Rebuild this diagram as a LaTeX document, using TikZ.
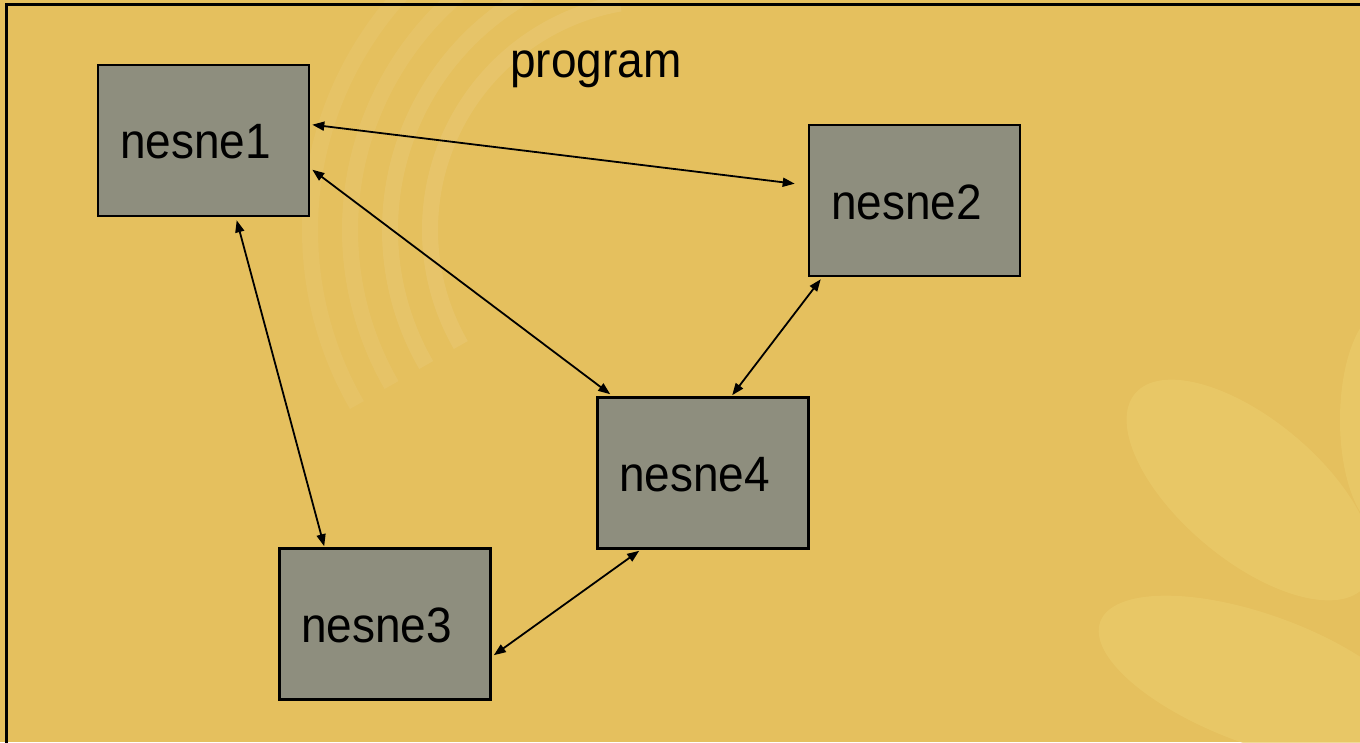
\documentclass[tikz,border=0pt]{standalone}
\usepackage{fontspec}
\setmainfont{Liberation Sans}
\usetikzlibrary{arrows.meta,calc}
\definecolor{bgc}{HTML}{E5C05E}
\definecolor{leafc}{HTML}{EACB6A}
\definecolor{boxc}{HTML}{8E8E7E}
\tikzset{
  obj/.style={draw=black, line width=2.6pt, fill=boxc, minimum width=211pt, minimum height=151pt, inner sep=0pt},
  lbl/.style={anchor=base west, inner sep=0pt, font=\fontsize{46}{50}\selectfont},
  conn/.style={line width=1.8pt, {Triangle[length=12pt,width=9pt]}-{Triangle[length=12pt,width=9pt]}},
}
\newcommand{\tallt}[1]{\scalebox{1}[1.08]{#1}}
\begin{document}
\begin{tikzpicture}[x=1pt,y=-1pt]
\useasboundingbox (0,0) rectangle (1360,742);
\begin{scope}
\clip (0,0) rectangle (1360,742);
\fill[bgc] (0,0) rectangle (1360,742);
% faint swirl arcs (upper left)
\foreach \r/\o in {230/0.08,270/0.07,310/0.06,350/0.05}{
  \draw[white, opacity=\o, line width=16pt] (660,230) ++(150:\r) arc (150:260:\r);
}
% faint leaves on the right
\fill[leafc, opacity=0.7, rotate around={-40:(1250,490)}] (1250,490) ellipse (150pt and 70pt);
\fill[leafc, opacity=0.7, rotate around={-20:(1260,680)}] (1260,680) ellipse (170pt and 65pt);
\fill[leafc, opacity=0.7] (1385,420) ellipse (45pt and 110pt);
% frame
\draw[black, line width=3pt] (6,4) rectangle (1380,760);
\end{scope}

\node[lbl] (prog) at (510,77) {\tallt{program}};

\node[obj] (n1) at (203.5,140.5) {};
\node[obj] (n2) at (914.5,200.5) {};
\node[obj] (n4) at (703,473) {};
\node[obj] (n3) at (385,624) {};

\node[lbl] (t1) at (120,158) {\tallt{nesne1}};
\node[lbl] (t2) at (831,219) {\tallt{nesne2}};
\node[lbl] (t4) at (619,491) {\tallt{nesne4}};
\node[lbl] (t3) at (301,642) {\tallt{nesne3}};

\draw[conn] ($(n1.north east)+(2,61)$) -- ($(n2.north west)+(-13,60)$);
\draw[conn] ($(n1.north east)+(2,106)$) -- ($(n4.north west)+(14,-2)$);
\draw[conn] ($(n1.south west)+(140,3)$) -- ($(n3.north west)+(46,-1)$);
\draw[conn] ($(n2.south west)+(13,2)$) -- ($(n4.north west)+(136,-1)$);
\draw[conn] ($(n4.south west)+(43,1)$) -- ($(n3.north east)+(2,108)$);
\end{tikzpicture}
\end{document}
